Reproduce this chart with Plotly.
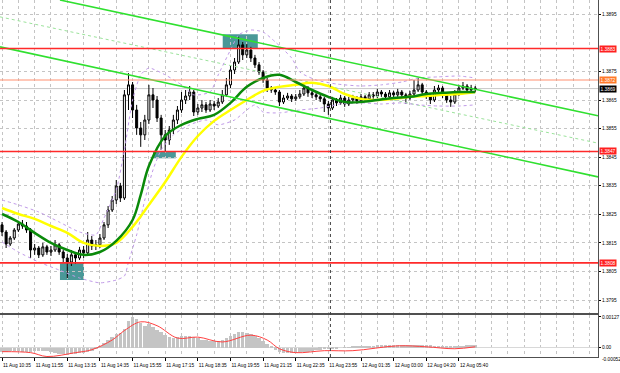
import plotly.graph_objects as go

# ---------------- data ----------------
time_labels = ["11 Aug 10:35", "11 Aug 11:55", "11 Aug 13:15", "11 Aug 14:35", "11 Aug 15:55",
               "11 Aug 17:15", "11 Aug 18:35", "11 Aug 19:55", "11 Aug 21:15", "11 Aug 22:35",
               "11 Aug 23:55", "12 Aug 01:35", "12 Aug 03:00", "12 Aug 04:20", "12 Aug 05:40"]
label_bar = [0, 8, 16, 24, 32, 40, 48, 56, 64, 72, 80, 88, 96, 104, 112]

first_open = 1.38213
closes = [1.38188, 1.38146, 1.38167, 1.38195, 1.38216, 1.38209, 1.38195, 1.38125, 1.38132, 1.38108,
          1.38136, 1.38118, 1.38125, 1.38143, 1.38118, 1.38097, 1.38083, 1.38108, 1.38097, 1.38125,
          1.38115, 1.38160, 1.38139, 1.38143, 1.38167, 1.38213, 1.38265, 1.38300, 1.38349, 1.38307,
          1.38668, 1.38703, 1.38615, 1.38552, 1.38528, 1.38580, 1.38668, 1.38650, 1.38587, 1.38528,
          1.38510, 1.38545, 1.38580, 1.38615, 1.38650, 1.38664, 1.38678, 1.38608, 1.38622, 1.38633,
          1.38615, 1.38636, 1.38629, 1.38643, 1.38668, 1.38703, 1.38755, 1.38783, 1.38843, 1.38808,
          1.38825, 1.38797, 1.38773, 1.38748, 1.38720, 1.38692, 1.38685, 1.38678, 1.38643, 1.38657,
          1.38664, 1.38654, 1.38661, 1.38671, 1.38692, 1.38675, 1.38668, 1.38661, 1.38654, 1.38636,
          1.38622, 1.38650, 1.38640, 1.38657, 1.38636, 1.38650, 1.38657, 1.38647, 1.38661, 1.38654,
          1.38668, 1.38664, 1.38678, 1.38671, 1.38661, 1.38675, 1.38668, 1.38678, 1.38668, 1.38657,
          1.38671, 1.38685, 1.38703, 1.38678, 1.38664, 1.38650, 1.38685, 1.38692, 1.38668, 1.38650,
          1.38643, 1.38671, 1.38692, 1.38699, 1.38685, 1.38692, 1.38690]
highs = [1.38223, 1.38195, 1.38174, 1.38202, 1.38227, 1.38230, 1.38223, 1.38202, 1.38146, 1.38139,
         1.38150, 1.38143, 1.38139, 1.38160, 1.38150, 1.38125, 1.38111, 1.38125, 1.38118, 1.38136,
         1.38139, 1.38188, 1.38174, 1.38160, 1.38181, 1.38223, 1.38279, 1.38314, 1.38370, 1.38360,
         1.38685, 1.38744, 1.38713, 1.38633, 1.38573, 1.38598, 1.38703, 1.38692, 1.38664, 1.38598,
         1.38545, 1.38559, 1.38598, 1.38629, 1.38678, 1.38685, 1.38699, 1.38685, 1.38636, 1.38650,
         1.38643, 1.38650, 1.38647, 1.38657, 1.38685, 1.38727, 1.38769, 1.38797, 1.38871, 1.38853,
         1.38846, 1.38836, 1.38808, 1.38783, 1.38755, 1.38727, 1.38699, 1.38692, 1.38685, 1.38668,
         1.38675, 1.38671, 1.38671, 1.38685, 1.38706, 1.38699, 1.38682, 1.38675, 1.38668, 1.38661,
         1.38647, 1.38661, 1.38657, 1.38668, 1.38664, 1.38661, 1.38668, 1.38664, 1.38671, 1.38668,
         1.38678, 1.38678, 1.38689, 1.38685, 1.38678, 1.38685, 1.38682, 1.38689, 1.38685, 1.38675,
         1.38682, 1.38720, 1.38727, 1.38710, 1.38685, 1.38671, 1.38699, 1.38703, 1.38699, 1.38675,
         1.38664, 1.38685, 1.38703, 1.38713, 1.38706, 1.38703, 1.38699]
lows = [1.38174, 1.38132, 1.38139, 1.38160, 1.38188, 1.38199, 1.38185, 1.38097, 1.38108, 1.38097,
        1.38101, 1.38108, 1.38104, 1.38118, 1.38108, 1.38083, 1.38027, 1.38069, 1.38076, 1.38090,
        1.38097, 1.38108, 1.38125, 1.38125, 1.38132, 1.38160, 1.38202, 1.38258, 1.38286, 1.38293,
        1.38300, 1.38615, 1.38587, 1.38528, 1.38486, 1.38510, 1.38566, 1.38622, 1.38573, 1.38475,
        1.38468, 1.38493, 1.38531, 1.38566, 1.38605, 1.38636, 1.38650, 1.38594, 1.38598, 1.38608,
        1.38605, 1.38608, 1.38615, 1.38622, 1.38636, 1.38661, 1.38692, 1.38741, 1.38776, 1.38790,
        1.38797, 1.38783, 1.38762, 1.38738, 1.38710, 1.38678, 1.38675, 1.38668, 1.38629, 1.38636,
        1.38650, 1.38643, 1.38647, 1.38654, 1.38664, 1.38661, 1.38657, 1.38650, 1.38643, 1.38608,
        1.38598, 1.38615, 1.38629, 1.38633, 1.38626, 1.38629, 1.38643, 1.38636, 1.38640, 1.38643,
        1.38647, 1.38654, 1.38657, 1.38661, 1.38650, 1.38654, 1.38657, 1.38661, 1.38657, 1.38636,
        1.38650, 1.38664, 1.38678, 1.38668, 1.38654, 1.38636, 1.38643, 1.38675, 1.38657, 1.38640,
        1.38626, 1.38636, 1.38664, 1.38685, 1.38678, 1.38675, 1.38678]
opens = [first_open] + closes[:-1]
bars = list(range(len(closes)))

green_ma_bar = [0, 4, 8, 12, 16, 20, 24, 28, 32, 34, 36, 40, 44, 48, 52, 56, 60, 64, 68, 72,
                76, 80, 84, 88, 92, 96, 100, 104, 108, 112, 116]
green_ma = [1.38251, 1.38223, 1.38185, 1.38150, 1.38125, 1.38108, 1.38118, 1.38157, 1.38230, 1.38318,
            1.38419, 1.38524, 1.38563, 1.38584, 1.38598, 1.38640, 1.38696, 1.38727, 1.38738, 1.38713,
            1.38685, 1.38661, 1.38643, 1.38643, 1.38650, 1.38657, 1.38661, 1.38671, 1.38675, 1.38678,
            1.38678]
yellow_ma_bar = [0, 4, 8, 12, 16, 20, 24, 28, 32, 36, 40, 44, 48, 52, 56, 60, 64, 68, 72, 76,
                 80, 84, 88, 92, 96, 100, 104, 108, 112, 116]
yellow_ma = [1.38272, 1.38251, 1.38234, 1.38209, 1.38185, 1.38150, 1.38139, 1.38150, 1.38206, 1.38283,
             1.38363, 1.38451, 1.38524, 1.38577, 1.38615, 1.38650, 1.38682, 1.38696, 1.38703, 1.38710,
             1.38699, 1.38671, 1.38654, 1.38650, 1.38654, 1.38661, 1.38664, 1.38668, 1.38671, 1.38678]

upper_band_bar = [0, 4, 9, 14, 19, 23, 25, 28, 30, 32, 34, 36, 40, 44, 47, 51, 53, 56, 58, 61,
                  64, 67, 71, 73, 77, 82, 88, 93, 98, 102, 107, 112, 116]
upper_band = [1.38300, 1.38283, 1.38258, 1.38223, 1.38188, 1.38178, 1.38237, 1.38335, 1.38475, 1.38650,
              1.38738, 1.38762, 1.38738, 1.38703, 1.38668, 1.38678, 1.38738, 1.38825, 1.38878, 1.38895,
              1.38888, 1.38853, 1.38797, 1.38748, 1.38720, 1.38706, 1.38699, 1.38703, 1.38713, 1.38727,
              1.38731, 1.38734, 1.38727]
lower_band_bar = [0, 4, 9, 14, 19, 24, 28, 30, 31, 33, 35, 37, 39, 42, 46, 50, 53, 57, 60, 62,
                  64, 68, 73, 78, 83, 88, 93, 98, 102, 107, 112, 116]
lower_band = [1.38153, 1.38118, 1.38083, 1.38055, 1.38027, 1.38010, 1.38020, 1.38034, 1.38083, 1.38178,
              1.38300, 1.38405, 1.38475, 1.38528, 1.38563, 1.38580, 1.38563, 1.38580, 1.38615, 1.38633,
              1.38608, 1.38605, 1.38615, 1.38622, 1.38636, 1.38640, 1.38636, 1.38640, 1.38633, 1.38629,
              1.38629, 1.38633]

channel_upper_bar = [14.2, 146.1]
channel_upper = [1.39000, 1.38595]
channel_lower_bar = [-0.5, 146.1]
channel_lower = [1.38836, 1.38381]
channel_mid_bar = [-0.5, 146.1]
channel_mid = [1.38941, 1.38499]

red_levels = [1.3883, 1.3847, 1.3808]
orange_level = 1.3872
bid_level = 1.3869
day_separator_bar = 80.5

zone_start = [54.1, 37.0, 14.2]
zone_end = [62.7, 42.6, 20.1]
zone_low = [1.38831, 1.38446, 1.38020]
zone_high = [1.38880, 1.38469, 1.38080]

price_ticks = [1.3795, 1.3805, 1.3815, 1.3825, 1.3835, 1.3845, 1.3855, 1.3865, 1.3875, 1.3895]

macd_hist = [-0.00016, -0.00016, -0.00015, -0.00014, -0.00014, -0.00016, -0.00016, -0.00017,
             -0.00013, -0.00012, -0.00012, -0.00014,
             -0.00018, -0.00022, -0.00024, -0.00026, -0.00028, -0.00027, -0.00025, -0.00022,
             -0.00020, -0.00017, -0.00014,
             -0.00004, 0.00008, 0.00020, 0.00032, 0.00044, 0.00056, 0.00062, 0.00079, 0.00111, 0.00127,
             0.00119, 0.00103, 0.00091, 0.00099, 0.00087, 0.00075, 0.00064, 0.00052, 0.00044, 0.00040,
             0.00044, 0.00048, 0.00048, 0.00048, 0.00044, 0.00040, 0.00032, 0.00032, 0.00028, 0.00028,
             0.00028, 0.00032, 0.00040, 0.00048, 0.00056, 0.00064, 0.00064, 0.00060, 0.00056, 0.00048,
             0.00040, 0.00028, 0.00016, 0.00004, -0.00008, -0.00016, -0.00020,
             -0.00020, -0.00020, -0.00020, -0.00017, -0.00016, -0.00016, -0.00012, -0.00011, -0.00008,
             -0.00004, -0.00004, -0.00005, -0.00002, 0.00000, 0.00001, 0.00002, 0.00004,
             0.00005, 0.00006, 0.00007, 0.00008, 0.00009, 0.00010, 0.00010, 0.00011, 0.00012, 0.00012,
             0.00011, 0.00011, 0.00010, 0.00010, 0.00011, 0.00012, 0.00012, 0.00011, 0.00010, 0.00009,
             0.00008, 0.00007, 0.00006, 0.00005, 0.00006, 0.00007, 0.00008, 0.00010, 0.00011, 0.00012]
signal_bar = [0, 7, 11, 18, 22, 27, 30, 34, 38, 43, 48, 54, 61, 65, 68, 72, 79, 86, 97, 104, 111, 116]
signal = [-0.00016, -0.00020, -0.00036, -0.00020, -0.00008, 0.00032, 0.00071, 0.00107, 0.00091, 0.00040,
          0.00044, 0.00024, 0.00052, 0.00032, -0.00004, -0.00020, -0.00012, -0.00012, 0.00008, 0.00004,
          -0.00004, 0.00004]
macd_labels = [0.00127, 0.0]
macd_min_label = "-0.00052"

# ---------------- figure ----------------
FONT = "Liberation Sans, Arial, sans-serif"
GRID = "#c4c4c4"
fig = go.Figure()

# teal zones
for x0, x1, y0, y1 in zip(zone_start, zone_end, zone_low, zone_high):
    fig.add_shape(type="rect", xref="x", yref="y", x0=x0, x1=x1, y0=y0, y1=y1,
                  fillcolor="#4a9898", line=dict(width=0), layer="below")

fig.add_shape(type="line", xref="x domain", yref="y", x0=0, x1=1, y0=bid_level, y1=bid_level,
              line=dict(color="#c8c8c8", width=1), layer="below")

fig.add_trace(go.Scatter(x=channel_mid_bar, y=channel_mid, mode="lines",
                         line=dict(color="#9be39b", width=1, dash="dot"), hoverinfo="skip"))
fig.add_trace(go.Scatter(x=upper_band_bar, y=upper_band, mode="lines",
                         line=dict(color="#c09ae8", width=1, dash="dot", shape="spline", smoothing=0.6),
                         hoverinfo="skip"))
fig.add_trace(go.Scatter(x=lower_band_bar, y=lower_band, mode="lines",
                         line=dict(color="#c09ae8", width=1, dash="dot", shape="spline", smoothing=0.6),
                         hoverinfo="skip"))

fig.add_trace(go.Candlestick(x=bars, open=opens, high=highs, low=lows, close=closes,
                             increasing=dict(line=dict(color="#000000", width=1), fillcolor="#ffffff"),
                             decreasing=dict(line=dict(color="#000000", width=1), fillcolor="#000000"),
                             whiskerwidth=0, hoverinfo="skip"))

fig.add_trace(go.Scatter(x=yellow_ma_bar, y=yellow_ma, mode="lines",
                         line=dict(color="#ffff00", width=2.5, shape="spline", smoothing=1.0),
                         hoverinfo="skip"))
fig.add_trace(go.Scatter(x=green_ma_bar, y=green_ma, mode="lines",
                         line=dict(color="#0a8a0a", width=2.5, shape="spline", smoothing=1.0),
                         hoverinfo="skip"))

fig.add_trace(go.Scatter(x=channel_upper_bar, y=channel_upper, mode="lines",
                         line=dict(color="#2fe02f", width=1.6), hoverinfo="skip"))
fig.add_trace(go.Scatter(x=channel_lower_bar, y=channel_lower, mode="lines",
                         line=dict(color="#2fe02f", width=1.6), hoverinfo="skip"))

for lv in red_levels:
    fig.add_shape(type="line", xref="x domain", yref="y", x0=0, x1=1, y0=lv, y1=lv,
                  line=dict(color="#ff2a2a", width=1.6))
fig.add_shape(type="line", xref="x domain", yref="y", x0=0, x1=1, y0=orange_level, y1=orange_level,
              line=dict(color="#ff9070", width=1))

# MACD pane
fig.add_trace(go.Bar(x=bars, y=macd_hist, marker=dict(color="#c4c4c4", line=dict(width=0)),
                     width=0.85, xaxis="x2", yaxis="y2", hoverinfo="skip"))
fig.add_trace(go.Scatter(x=signal_bar, y=signal, mode="lines", xaxis="x2", yaxis="y2",
                         line=dict(color="#ff4040", width=1, shape="spline", smoothing=1.0),
                         hoverinfo="skip"))

fig.add_shape(type="line", xref="x", yref="paper", x0=day_separator_bar, x1=day_separator_bar,
              y0=0, y1=1, line=dict(color="#404040", width=1, dash="dot"))

# right-side level labels
level_tags = [(red_levels[0], "#ff2020"), (orange_level, "#ff7a2a"), (bid_level, "#000000"),
              (red_levels[1], "#ff2020"), (red_levels[2], "#ff2020")]
for lv, col in level_tags:
    fig.add_annotation(x=1, xref="paper", xanchor="left", xshift=1, y=lv, yref="y",
                       text=f"{lv:.4f}", showarrow=False, bgcolor=col, borderpad=0.6,
                       font=dict(family=FONT, size=4.8, color="#ffffff"))
fig.add_annotation(x=1, xref="paper", xanchor="left", xshift=2, y=0, yref="paper", yanchor="middle",
                   yshift=-2, text=macd_min_label, showarrow=False,
                   font=dict(family=FONT, size=4.8, color="#000000"))

x_range = [-0.5, 146.1]
fig.update_layout(
    width=620, height=373,
    margin=dict(l=0, r=22, t=0, b=16),
    paper_bgcolor="#ffffff", plot_bgcolor="#ffffff",
    showlegend=False, bargap=0,
    font=dict(family=FONT, size=4.8, color="#000000"),
    xaxis=dict(domain=[0, 1], anchor="y", range=x_range, rangeslider=dict(visible=False),
               showticklabels=False, tickmode="linear", tick0=0, dtick=4, ticks="",
               showgrid=True, gridcolor=GRID, griddash="dot", gridwidth=1,
               showline=True, linecolor="#505050", linewidth=1, zeroline=False),
    yaxis=dict(domain=[0.1232, 1], anchor="x", side="right", range=[1.379045, 1.39],
               tickvals=price_ticks, ticktext=[f"{v:.4f}" for v in price_ticks],
               ticks="outside", ticklen=2, tickcolor="#000000",
               tickfont=dict(family=FONT, size=4.8, color="#000000"),
               showgrid=True, gridcolor=GRID, griddash="dot", gridwidth=1,
               showline=True, linecolor="#505050", linewidth=1, zeroline=False),
    xaxis2=dict(domain=[0, 1], anchor="y2", range=x_range, matches="x",
                tickvals=label_bar, ticktext=time_labels, ticklabelposition="outside right",
                ticklabelstandoff=3,
                tickangle=0, ticks="outside", ticklen=3, tickcolor="#000000",
                tickfont=dict(family=FONT, size=4.8, color="#000000"),
                showgrid=True, gridcolor=GRID, griddash="dot", gridwidth=1,
                minor=dict(tickmode="linear", tick0=0, dtick=4, showgrid=True, gridcolor=GRID,
                           griddash="dot", ticks=""),
                showline=True, mirror=True, linecolor="#505050", linewidth=1, zeroline=False),
    yaxis2=dict(domain=[0, 0.1176], anchor="x2", side="right", range=[-0.00038, 0.00135],
                tickvals=macd_labels, ticktext=["0.00127", "0.00"],
                ticks="outside", ticklen=2, tickcolor="#000000",
                tickfont=dict(family=FONT, size=4.8, color="#000000"),
                showgrid=False, zeroline=True, zerolinecolor="#d8d8d8", zerolinewidth=1,
                showline=True, linecolor="#505050", linewidth=1),
)

fig.write_html("out.html")
